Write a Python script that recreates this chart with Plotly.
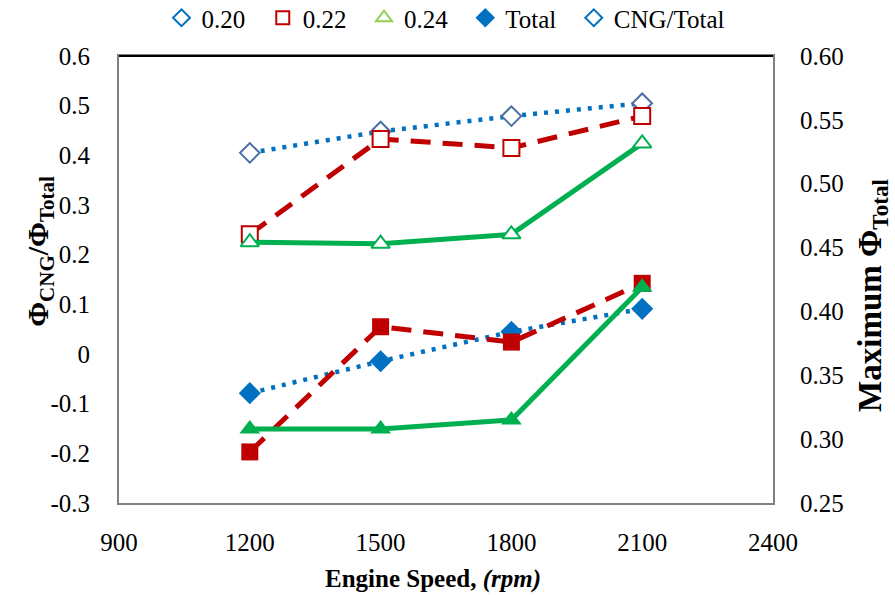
import plotly.graph_objects as go

speed = [1200, 1500, 1800, 2100]

# CNG/Total ratio (left axis) - open markers
ratio_020 = [0.405, 0.448, 0.479, 0.505]
ratio_022 = [0.241, 0.433, 0.415, 0.479]
ratio_024 = [0.225, 0.222, 0.241, 0.424]

# Maximum total equivalence ratio (right axis) - filled markers
total_020 = [0.336, 0.361, 0.384, 0.402]
total_022 = [0.290, 0.388, 0.376, 0.422]
total_024 = [0.308, 0.308, 0.315, 0.419]

x_ticks = [900, 1200, 1500, 1800, 2100, 2400]
y_ticks = [-0.3, -0.2, -0.1, 0, 0.1, 0.2, 0.3, 0.4, 0.5, 0.6]
y_ticktext = ["-0.3", "-0.2", "-0.1", "0", "0.1", "0.2", "0.3", "0.4", "0.5", "0.6"]
y2_ticks = [0.25, 0.30, 0.35, 0.40, 0.45, 0.50, 0.55, 0.60]

legend_names = ["0.20", "0.22", "0.24", "Total", "CNG/Total"]

x_title = "<b>Engine Speed, <i>(rpm)</i></b>"
y_title = "<b>Φ<sub>CNG</sub>/Φ<sub>Total</sub></b>"
y2_title = "<b>Maximum Φ<sub>Total</sub></b>"

BLUE = "#0070C0"
SLATE = "#4A6FA5"
RED = "#C00000"
GREEN = "#00B050"
LGREEN = "#92D050"
FONT = "Liberation Serif, Times New Roman, serif"
TF = dict(family=FONT, size=25, color="black")

fig = go.Figure()

# open-marker series (left axis)
fig.add_trace(go.Scatter(x=speed, y=ratio_020, mode="lines+markers", showlegend=False,
                         line=dict(color=BLUE, width=4.5, dash="4px,7px"),
                         marker=dict(symbol="diamond", size=15, color="white",
                                     line=dict(color=SLATE, width=2))))
fig.add_trace(go.Scatter(x=speed, y=ratio_022, mode="lines+markers", showlegend=False,
                         line=dict(color=RED, width=5, dash="20px,12px"),
                         marker=dict(symbol="square", size=16, color="white",
                                     line=dict(color=RED, width=2))))
fig.add_trace(go.Scatter(x=speed, y=ratio_024, mode="lines+markers", showlegend=False,
                         line=dict(color=GREEN, width=5),
                         marker=dict(symbol="triangle-up", size=16, color="white",
                                     line=dict(color=GREEN, width=2))))

# filled-marker series (right axis)
fig.add_trace(go.Scatter(x=speed, y=total_020, mode="lines+markers", showlegend=False, yaxis="y2",
                         line=dict(color=BLUE, width=4.5, dash="4px,7px"),
                         marker=dict(symbol="diamond", size=17, color=BLUE)))
fig.add_trace(go.Scatter(x=speed, y=total_022, mode="lines+markers", showlegend=False, yaxis="y2",
                         line=dict(color=RED, width=5, dash="20px,12px"),
                         marker=dict(symbol="square", size=17, color=RED)))
fig.add_trace(go.Scatter(x=speed, y=total_024, mode="lines+markers", showlegend=False, yaxis="y2",
                         line=dict(color=GREEN, width=5),
                         marker=dict(symbol="triangle-up", size=18, color=GREEN)))

# legend-only entries
legend_markers = [
    dict(symbol="diamond", size=13, color="white", line=dict(color=BLUE, width=2)),
    dict(symbol="square", size=13, color="white", line=dict(color=RED, width=2)),
    dict(symbol="triangle-up", size=14, color="white", line=dict(color=LGREEN, width=2)),
    dict(symbol="diamond", size=15, color=BLUE, line=dict(color=BLUE, width=0)),
    dict(symbol="diamond", size=13, color="white", line=dict(color=BLUE, width=2)),
]
for i, (name, mk) in enumerate(zip(legend_names, legend_markers)):
    pad = "" if i == len(legend_names) - 1 else "\u00a0" * 2
    fig.add_trace(go.Scatter(x=[None], y=[None], mode="markers", name=name + pad, marker=mk))

fig.update_layout(
    width=895, height=595,
    margin=dict(l=119, r=122, t=56, b=92, autoexpand=False),
    paper_bgcolor="white", plot_bgcolor="white",
    font=TF,
    showlegend=True,
    legend=dict(orientation="h", x=0.5, xanchor="center", y=1.085, yref="paper",
                yanchor="middle", font=TF, itemsizing="trace", itemwidth=30,
                bgcolor="rgba(0,0,0,0)"),
    xaxis=dict(range=[900, 2400], tickvals=x_ticks, showgrid=False, zeroline=False,
               showline=True, linecolor="#808080", linewidth=2, mirror=True,
               ticks="", ticklabelstandoff=16, tickfont=TF),
    yaxis=dict(range=[-0.3, 0.6], tickvals=y_ticks, ticktext=y_ticktext, showgrid=False,
               zeroline=False, showline=True, linecolor="#808080", linewidth=2,
               ticks="", ticklabelstandoff=22, tickfont=TF),
    yaxis2=dict(range=[0.25, 0.60], tickvals=y2_ticks, tickformat=".2f", overlaying="y",
                side="right", showgrid=False, zeroline=False, showline=True,
                linecolor="#808080", linewidth=2, ticks="", ticklabelstandoff=20, tickfont=TF),
    shapes=[dict(type="line", xref="paper", yref="paper", x0=0, x1=1, y0=1, y1=1,
                 line=dict(color="black", width=2))],
    annotations=[
        dict(text=x_title, xref="paper", yref="paper", x=0.48, y=-0.170,
             xanchor="center", yanchor="middle", showarrow=False,
             font=dict(family=FONT, size=25, color="black")),
        dict(text=y_title, xref="paper", yref="paper", x=-0.121, y=0.564, textangle=-90,
             xanchor="center", yanchor="middle", showarrow=False,
             font=dict(family=FONT, size=30, color="black")),
        dict(text=y2_title, xref="paper", yref="paper", x=1.151, y=0.465, textangle=-90,
             xanchor="center", yanchor="middle", showarrow=False,
             font=dict(family=FONT, size=33, color="black")),
    ],
)

fig.write_html("out.html")
